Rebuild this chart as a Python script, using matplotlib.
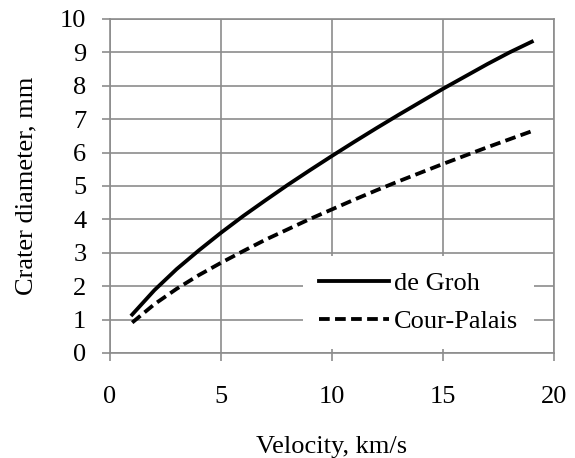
import numpy as np
import matplotlib.pyplot as plt

# crater diameter vs impact velocity
velocity = [1, 2, 3, 4, 5, 6, 7, 8, 9, 10, 11, 12, 13, 14, 15, 16, 17, 18, 19]
de_groh = [1.15, 1.88, 2.51, 3.07, 3.60, 4.10, 4.57, 5.03, 5.47, 5.90,
           6.32, 6.73, 7.13, 7.52, 7.91, 8.28, 8.65, 9.00, 9.32]
cour_palais = [0.91, 1.46, 1.92, 2.33, 2.70, 3.05, 3.39, 3.70, 4.01, 4.30,
               4.59, 4.87, 5.14, 5.40, 5.66, 5.91, 6.16, 6.40, 6.64]

x_ticks = [0, 5, 10, 15, 20]
y_ticks = [0, 1, 2, 3, 4, 5, 6, 7, 8, 9, 10]

plt.rcParams['font.family'] = ['Liberation Serif', 'DejaVu Serif']
plt.rcParams['font.size'] = 19

grid_col = '#8c8c8c'

fig = plt.figure(figsize=(5.75, 4.58), dpi=100)
ax = fig.add_axes([0.1913, 0.2293, 0.7722, 0.7293])

ax.plot(velocity, de_groh, color='black', lw=2.75, label='de Groh')
ax.plot(velocity, cour_palais, color='black', lw=2.75, dashes=(2.8, 1.4),
        label='Cour-Palais')

ax.set_xlim(0, 20)
ax.set_ylim(0, 10)
ax.set_xticks(x_ticks)
ax.set_yticks(y_ticks)
ax.grid(True, color=grid_col, lw=1.2)
ax.set_axisbelow(True)
for s in ax.spines.values():
    s.set_color(grid_col)
    s.set_linewidth(1.2)
ax.tick_params(axis='both', direction='out', length=6, width=1.2,
               color=grid_col, labelcolor='black')
ax.tick_params(axis='y', pad=11)
ax.tick_params(axis='x', pad=18)

ax.set_xlabel('Velocity, km/s', labelpad=20)
ax.set_ylabel('Crater diameter, mm', labelpad=16)

leg = ax.legend(loc='lower right', bbox_to_anchor=(0.955, 0.012),
                borderaxespad=0, frameon=True, fancybox=False,
                facecolor='white', edgecolor='none', framealpha=1,
                handlelength=2.65, handletextpad=0.2, labelspacing=0.55,
                borderpad=0.6)

fig.savefig('out.png', dpi=100)
